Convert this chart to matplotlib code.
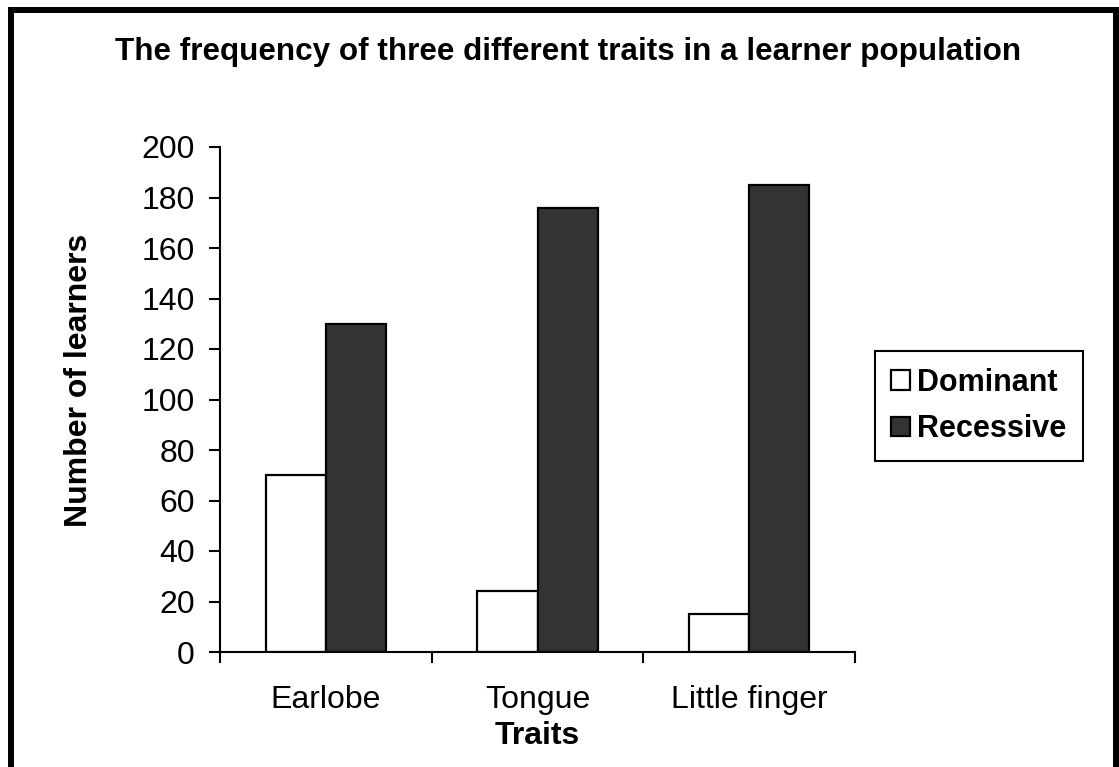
import matplotlib.pyplot as plt
import numpy as np
from matplotlib.patches import Rectangle

# donnees
traits = ['Earlobe', 'Tongue', 'Little finger']
dominant = [70, 24, 15]
recessive = [130, 176, 185]
yticks = [0, 20, 40, 60, 80, 100, 120, 140, 160, 180, 200]

plt.rcParams['font.family'] = ['Liberation Sans', 'DejaVu Sans']

fig = plt.figure(figsize=(11.19, 7.67), dpi=100)
fig.patch.set_facecolor('white')
ax = fig.add_axes([220/1119, 1 - 652/767, 635/1119, 505/767])

x = np.arange(len(traits))
w = 0.284
ax.bar(x - w/2, dominant, w, color='white', edgecolor='black', linewidth=1.6, label='Dominant')
ax.bar(x + w/2, recessive, w, color='#333333', edgecolor='black', linewidth=1.6, label='Recessive')

ax.set_xlim(-0.5, 2.5)
ax.set_ylim(0, 200)
ax.set_yticks(yticks)
ax.set_xticks(x)
ax.set_xticklabels(traits, fontsize=23)
ax.set_xticks([-0.5, 0.5, 1.5, 2.5], minor=True)
ax.tick_params(axis='x', which='major', length=0, pad=24)
ax.tick_params(axis='x', which='minor', length=8, width=1.5, direction='out')
ax.tick_params(axis='y', length=8, width=1.5, direction='out', labelsize=23, pad=10)

for s in ['top', 'right']:
    ax.spines[s].set_visible(False)
for s in ['left', 'bottom']:
    ax.spines[s].set_linewidth(1.5)

ax.set_xlabel('Traits', fontsize=23, fontweight='bold', labelpad=4)
ax.set_ylabel('Number of learners', fontsize=23, fontweight='bold')
ax.yaxis.label.set_va('center')
ax.yaxis.set_label_coords(-0.222, 0.537)

fig.text(568/1119, 1 - 52/767, 'The frequency of three different traits in a learner population',
         ha='center', va='center', fontsize=22.6, fontweight='bold')

leg = fig.legend(loc='center', bbox_to_anchor=(979/1119, 1 - 406/767), frameon=True,
                 fancybox=False, edgecolor='black', framealpha=1,
                 prop={'size': 22, 'weight': 'bold'},
                 handlelength=0.6, handleheight=0.6, handletextpad=0.25, borderpad=0.55,
                 labelspacing=0.55, borderaxespad=0)
leg.get_frame().set_linewidth(1.5)

# cadre autour de la figure
fig.patches.append(Rectangle((11/1119, -0.05), 1105/1119, 1.05 - 9.5/767,
                             transform=fig.transFigure, fill=False,
                             edgecolor='black', linewidth=4.3))

fig.savefig('out.png', dpi=100)
